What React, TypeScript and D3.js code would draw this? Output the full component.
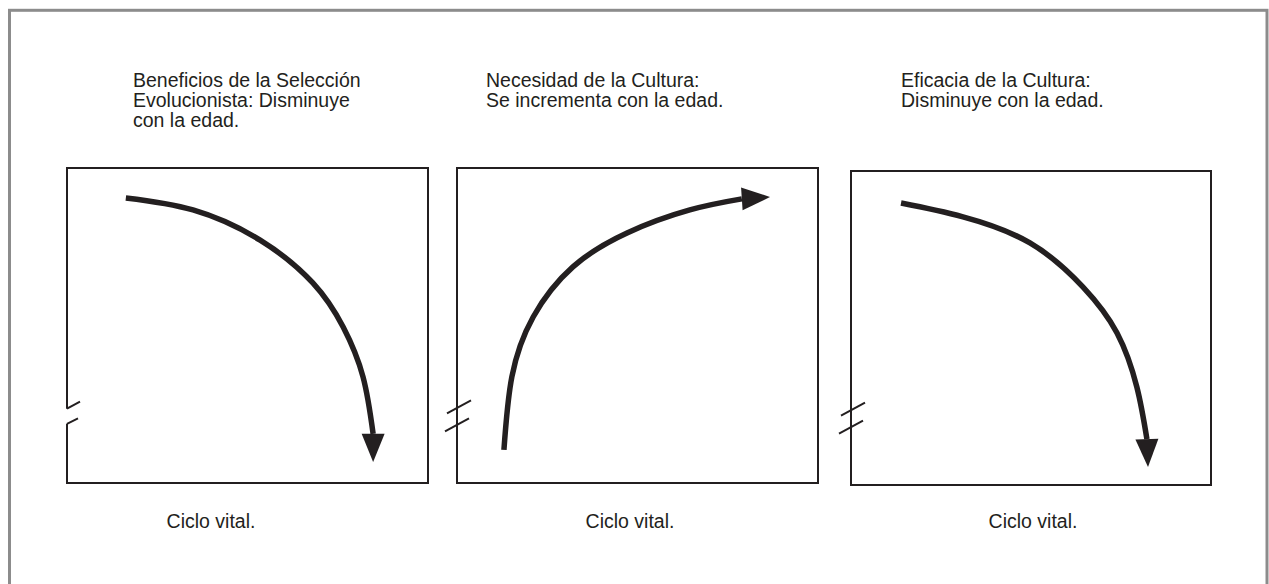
import React from 'react'
import * as d3 from 'd3'

// panel titles and bottom label
const titles = [
  ['Beneficios de la Selección', 'Evolucionista: Disminuye', 'con la edad.'],
  ['Necesidad de la Cultura:', 'Se incrementa con la edad.'],
  ['Eficacia de la Cultura:', 'Disminuye con la edad.'],
]
const xLabel = 'Ciclo vital.'

// curves, 0..100 on both axes (last point = arrow tip)
const ages1 = [16.3, 34.9, 53.5, 68.1, 76.5, 82.0, 84.8, 84.8]
const benefit = [90.5, 86.7, 77.1, 63.5, 49.5, 33.7, 15.6, 6.7]

const ages2 = [13.0, 15.2, 21.1, 32.1, 47.1, 64.5, 78.9, 86.7]
const need = [10.5, 33.7, 52.7, 68.6, 79.4, 86.7, 90.2, 90.8]

const ages3 = [13.9, 31.1, 49.7, 64.4, 73.9, 79.4, 82.2, 82.5]
const efficacy = [89.8, 85.4, 77.1, 63.1, 48.4, 31.2, 14.6, 5.7]

const series = [
  { ages: ages1, values: benefit },
  { ages: ages2, values: need },
  { ages: ages3, values: efficacy },
]

// layout of each panel box
const panels = [
  { x0: 67, x1: 428, y0: 168, y1: 483, titleX: 133, labelX: 211, broken: true },
  { x0: 457, x1: 818, y0: 168, y1: 483, titleX: 486, labelX: 630, broken: false },
  { x0: 851, x1: 1211, y0: 171, y1: 485, titleX: 901, labelX: 1033, broken: false },
]

const ink = '#231f20'
const font = '"Liberation Sans", Arial, sans-serif'

function Panel({ p, s, title }: any) {
  const x = d3.scaleLinear().domain([0, 100]).range([p.x0, p.x1])
  const y = d3.scaleLinear().domain([0, 100]).range([p.y1, p.y0])

  const pts: [number, number][] = s.ages.map((a: number, i: number) => [x(a), y(s.values[i])])
  const shaft = pts.slice(0, pts.length - 1)
  const line = d3.line().curve(d3.curveNatural)

  // arrow head from the shaft end to the tip
  const [bx, by] = pts[pts.length - 2]
  const [tx, ty] = pts[pts.length - 1]
  const len = Math.hypot(tx - bx, ty - by)
  const ux = (tx - bx) / len
  const uy = (ty - by) / len
  const hw = 11.5
  const head = `M${tx},${ty}L${bx - uy * hw},${by + ux * hw}L${bx + uy * hw},${by - ux * hw}Z`

  // axis break marks on the left edge
  const bY = y(24)
  const left = p.x0
  let frame
  if (p.broken) {
    const gTop = y(23.6)
    const gBot = y(18.8)
    frame = (
      <g fill="none" stroke={ink} strokeWidth={2}>
        <path d={`M${left},${gTop}L${left},${p.y0}L${p.x1},${p.y0}L${p.x1},${p.y1}L${left},${p.y1}L${left},${gBot}`} />
        <line x1={left} y1={gTop} x2={left + 13} y2={gTop - 7} />
        <line x1={left} y1={gBot} x2={left + 11} y2={gBot - 5.5} />
      </g>
    )
  } else {
    frame = (
      <g fill="none" stroke={ink} strokeWidth={2}>
        <rect x={p.x0} y={p.y0} width={p.x1 - p.x0} height={p.y1 - p.y0} />
        <line x1={left - 10} y1={bY + 6} x2={left + 14} y2={bY - 7} />
        <line x1={left - 12} y1={bY + 24} x2={left + 12} y2={bY + 11} />
      </g>
    )
  }

  return (
    <g>
      {frame}
      <path d={line(shaft) || ''} fill="none" stroke={ink} strokeWidth={5.5} />
      <path d={head} fill={ink} />
      <text x={p.titleX} y={87} fontFamily={font} fontSize={19.5} fill={ink}>
        {title.map((t: string, i: number) => (
          <tspan key={i} x={p.titleX} dy={i === 0 ? 0 : 20}>{t}</tspan>
        ))}
      </text>
      <text x={p.labelX} y={528} textAnchor="middle" fontFamily={font} fontSize={19.5} fill={ink}>
        {xLabel}
      </text>
    </g>
  )
}

export default function App() {
  return (
    <svg width={1269} height={584} style={{ position: 'absolute', left: 0, top: 0, background: '#fff' }}>
      <rect x={9.5} y={10.3} width={1257.5} height={700} fill="#fff" stroke="#8c8c8c" strokeWidth={3} />
      {panels.map((p, i) => (
        <Panel key={i} p={p} s={series[i]} title={titles[i]} />
      ))}
    </svg>
  )
}
